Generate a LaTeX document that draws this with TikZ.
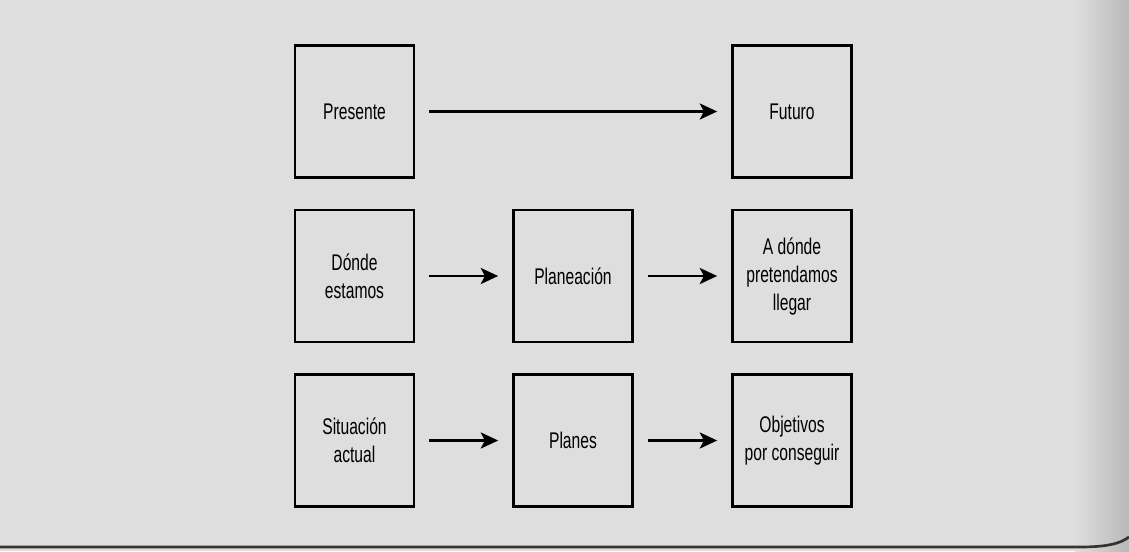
\documentclass[tikz,border=0pt]{standalone}
\usepackage{fontspec}
\setmainfont[FakeStretch=0.69]{Liberation Sans}
\usetikzlibrary{arrows.meta}
\definecolor{paper}{gray}{0.87}
\tikzset{
  box/.style={draw=black, line width=2pt, minimum width=89.25pt, minimum height=99pt,
    inner sep=2pt, align=center, font=\fontsize{17pt}{21pt}\selectfont},
  conn/.style={line width=2pt, -{Stealth[length=13pt,width=12pt,inset=3pt]},
    shorten <=10.5pt, shorten >=10.5pt}
}
\begin{document}
\begin{tikzpicture}[x=0.75pt,y=-0.75pt]
\useasboundingbox (0,0) rectangle (1129,551);
\fill[paper] (0,0) rectangle (1129,551);
\shade[left color=paper, right color=gray!55] (1075,0) rectangle (1129,551);
\draw[line width=2pt, black!80] (0,547) -- (1080,547) .. controls (1105,547) and (1120,544) .. (1129,537);
\node[box] (presente) at (354.5,111.5) {Presente};
\node[box] (futuro) at (792,111.5) {Futuro};
\node[box] (donde) at (354.5,276) {Dónde\\estamos};
\node[box] (planeacion) at (573,276) {Planeación};
\node[box] (adonde) at (792,276) {A dónde\\pretendamos\\llegar};
\node[box] (situacion) at (354.5,440.5) {Situación\\actual};
\node[box] (planes) at (573,440.5) {Planes};
\node[box] (objetivos) at (792,440.5) {Objetivos\\por conseguir};
\draw[conn] (presente) -- (futuro);
\draw[conn] (donde) -- (planeacion);
\draw[conn] (planeacion) -- (adonde);
\draw[conn] (situacion) -- (planes);
\draw[conn] (planes) -- (objetivos);
\end{tikzpicture}
\end{document}
